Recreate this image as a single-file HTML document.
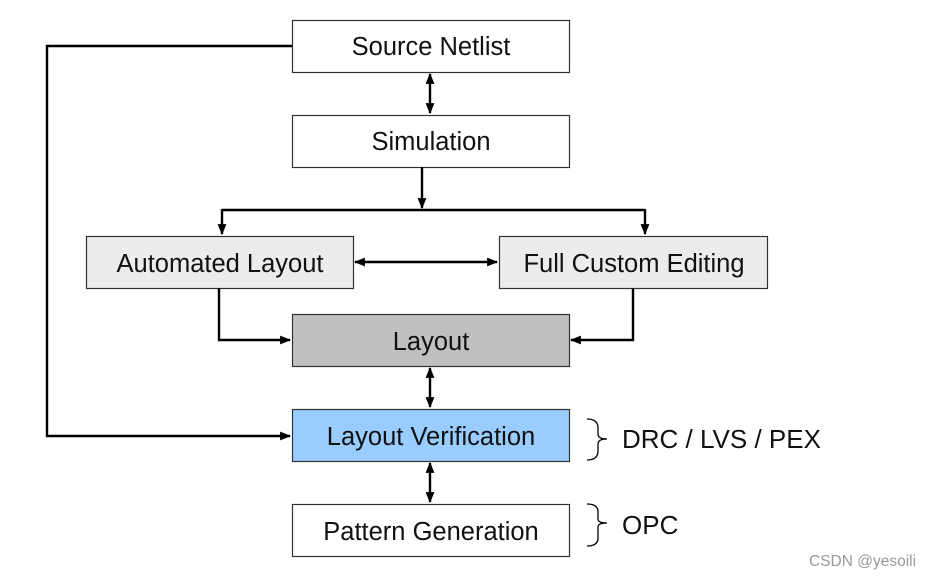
<!DOCTYPE html>
<html><head><style>
body{margin:0;background:#fff;width:927px;height:575px;overflow:hidden}
</style></head><body>
<svg width="927" height="575" viewBox="0 0 927 575" xmlns="http://www.w3.org/2000/svg" font-family="Liberation Sans, Arial, sans-serif">
<defs>
<marker id="a" viewBox="0 0 10 10" refX="9" refY="5" markerWidth="11" markerHeight="11" markerUnits="userSpaceOnUse" orient="auto-start-reverse"><path d="M0,1 L10,5 L0,9 z" fill="#000"/></marker>
</defs>
<g stroke="#333" stroke-width="1.2">
<rect x="292.5" y="20.5" width="277" height="52" fill="#fff"/>
<rect x="292.5" y="115.5" width="277" height="52" fill="#fff"/>
<rect x="86.5" y="236.5" width="267" height="52" fill="#ececec"/>
<rect x="499.5" y="236.5" width="268" height="52" fill="#ececec"/>
<rect x="292.5" y="314.5" width="277" height="52" fill="#c0c0c0"/>
<rect x="292.5" y="409.5" width="277" height="52" fill="#99ccff"/>
<rect x="292.5" y="504.5" width="277" height="52" fill="#fff"/>
</g>
<g stroke="#000" stroke-width="2.4" fill="none">
<path d="M292 46 H47 V436 H290" marker-end="url(#a)"/>
<path d="M430 74 V113" marker-start="url(#a)" marker-end="url(#a)"/>
<path d="M422 167 V208" marker-end="url(#a)"/>
<path d="M222 210 H645"/>
<path d="M222 209 V234" marker-end="url(#a)"/>
<path d="M645 209 V234" marker-end="url(#a)"/>
<path d="M355 262 H497" marker-start="url(#a)" marker-end="url(#a)"/>
<path d="M219 288 V340 H290" marker-end="url(#a)"/>
<path d="M633 288 V340 H571" marker-end="url(#a)"/>
<path d="M430 368 V407" marker-start="url(#a)" marker-end="url(#a)"/>
<path d="M430 463 V502" marker-start="url(#a)" marker-end="url(#a)"/>
</g>
<g stroke="#000" stroke-width="1.3" fill="none">
<path d="M587 419 Q598 419 598 428 V434 Q598 439 607 439 Q598 439 598 444 V451 Q598 460 587 460"/>
<path d="M587 504 Q598 504 598 512 V519 Q598 523 607 523 Q598 523 598 527 V538 Q598 546 587 546"/>
</g>
<g font-size="25.5" fill="#111" text-anchor="middle">
<text x="431" y="55">Source Netlist</text>
<text x="431" y="150">Simulation</text>
<text x="220" y="272">Automated Layout</text>
<text x="634" y="272">Full Custom Editing</text>
<text x="431" y="350">Layout</text>
<text x="431" y="445">Layout Verification</text>
<text x="431" y="540">Pattern Generation</text>
</g>
<g font-size="26" fill="#111">
<text x="622" y="448">DRC / LVS / PEX</text>
<text x="622" y="534">OPC</text>
</g>
<text x="809" y="566" font-size="15.5" fill="#999">CSDN @yesoili</text>
</svg>
</body></html>
